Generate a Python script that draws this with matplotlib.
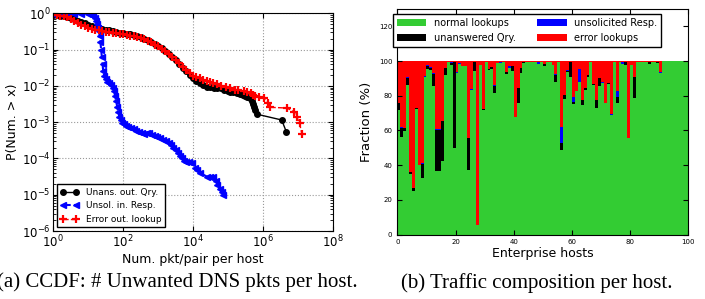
import numpy as np
import matplotlib.pyplot as plt

# ---- left panel: CCDF points (log10 x, log10 y) ----
unans_lx = [0, 0.1, 0.2, 0.3, 0.4, 0.5, 0.6, 0.7, 0.8, 0.9, 1.0, 1.1, 1.2, 1.3, 1.4, 1.5,
            1.6, 1.7, 1.8, 1.9, 2.0, 2.1, 2.2, 2.3, 2.4, 2.5, 2.6, 2.7, 2.8, 2.9, 3.0,
            3.1, 3.2, 3.3, 3.4, 3.5, 3.6, 3.7, 3.8, 3.9, 4.0, 4.1, 4.2, 4.3, 4.4, 4.5,
            4.6, 4.7, 4.8, 4.9, 5.0, 5.06, 5.15, 5.25, 5.35, 5.44, 5.5, 5.56, 5.64,
            5.7, 5.73, 5.76, 5.78, 5.83, 6.54, 6.67]
unans_ly = [-0.05, -0.05, -0.06, -0.08, -0.1, -0.12, -0.15, -0.2, -0.24, -0.28, -0.31,
            -0.34, -0.37, -0.4, -0.42, -0.45, -0.47, -0.49, -0.51, -0.53, -0.54, -0.56,
            -0.58, -0.6, -0.63, -0.66, -0.7, -0.74, -0.79, -0.85, -0.9, -0.96, -1.03,
            -1.12, -1.2, -1.3, -1.4, -1.5, -1.6, -1.7, -1.79, -1.86, -1.92, -1.97,
            -2.02, -2.04, -2.05, -2.06, -2.07, -2.1, -2.14, -2.16, -2.17, -2.2, -2.22,
            -2.25, -2.27, -2.3, -2.34, -2.42, -2.5, -2.58, -2.66, -2.78, -2.94, -3.26]

unsol_lx = [0, 0.2, 0.4, 0.6, 0.8, 1.0, 1.05, 1.1, 1.15, 1.18, 1.21, 1.24, 1.27, 1.3,
            1.33, 1.35, 1.37, 1.39, 1.41, 1.43, 1.46, 1.5, 1.55, 1.6, 1.65, 1.7, 1.74,
            1.77, 1.8, 1.83, 1.86, 1.89, 1.93, 1.97, 2.02, 2.08, 2.15, 2.22, 2.3, 2.38,
            2.46, 2.54, 2.6, 2.68, 2.75, 2.82, 2.9, 2.98, 3.06, 3.14, 3.22, 3.3, 3.38,
            3.44, 3.5, 3.56, 3.62, 3.68, 3.74, 3.8, 3.88, 3.97, 4.05, 4.12, 4.2, 4.4,
            4.5, 4.58, 4.65, 4.7, 4.76, 4.82, 4.87]
unsol_ly = [-0.02, -0.02, -0.02, -0.02, -0.02, -0.02, -0.03, -0.04, -0.06, -0.12, -0.2,
            -0.3, -0.4, -0.5, -0.62, -0.8, -1.0, -1.2, -1.4, -1.6, -1.72, -1.82, -1.88,
            -1.93, -1.98, -2.05, -2.15, -2.28, -2.42, -2.58, -2.72, -2.85, -2.95, -3.02,
            -3.06, -3.1, -3.13, -3.16, -3.19, -3.23, -3.27, -3.31, -3.33, -3.3, -3.3,
            -3.34, -3.38, -3.41, -3.44, -3.48, -3.53, -3.58, -3.64, -3.7, -3.78, -3.86,
            -3.94, -4.0, -4.06, -4.09, -4.11, -4.13, -4.25, -4.33, -4.4, -4.5, -4.5,
            -4.52, -4.62, -4.72, -4.85, -4.93, -5.0]

error_lx = [0, 0.1, 0.2, 0.3, 0.4, 0.5, 0.6, 0.7, 0.8, 0.9, 1.0, 1.1, 1.2, 1.3, 1.4, 1.5,
            1.6, 1.7, 1.8, 1.9, 2.0, 2.1, 2.2, 2.3, 2.4, 2.5, 2.6, 2.7, 2.8, 2.9, 3.0,
            3.1, 3.2, 3.3, 3.4, 3.5, 3.6, 3.7, 3.8, 3.9, 4.0, 4.1, 4.2, 4.3, 4.4, 4.5,
            4.58, 4.7, 4.8, 4.95, 5.06, 5.2, 5.3, 5.45, 5.54, 5.65, 5.72, 5.78, 5.9,
            6.02, 6.16, 6.2, 6.69, 6.88, 6.97, 7.05, 7.12]
error_ly = [-0.05, -0.05, -0.06, -0.08, -0.11, -0.15, -0.2, -0.26, -0.31, -0.36, -0.4,
            -0.42, -0.45, -0.47, -0.49, -0.51, -0.52, -0.54, -0.55, -0.57, -0.58, -0.6,
            -0.62, -0.63, -0.66, -0.69, -0.72, -0.75, -0.8, -0.86, -0.91, -0.97, -1.04,
            -1.11, -1.19, -1.28, -1.38, -1.47, -1.56, -1.65, -1.72, -1.76, -1.79, -1.84,
            -1.87, -1.9, -1.93, -1.96, -2.0, -2.04, -2.07, -2.1, -2.12, -2.15, -2.16,
            -2.2, -2.24, -2.28, -2.3, -2.34, -2.48, -2.59, -2.61, -2.71, -2.85, -3.03,
            -3.33]

# ---- right panel: per-host composition (%) ----
normal = [72, 56, 59.6, 86, 35, 25.3, 72.5, 40, 32.7, 90.8,
          95.4, 94.6, 85.5, 36.6, 36.6, 42.4, 92, 99.5, 98, 50,
          93.2, 98.5, 97, 97.3, 37, 83.3, 94.4, 5.5, 97.7, 72,
          99.5, 94.6, 95.2, 81.7, 99, 99, 99.5, 92.5, 96.2, 94.4,
          68, 76, 93.3, 99, 99.5, 99.5, 99.5, 99.5, 98.3, 99.5,
          97, 99.5, 99.5, 98, 87.7, 99.5, 48.7, 78, 93.5, 91,
          75.2, 83, 88, 74.6, 83.5, 91, 99.5, 86, 72.7, 85.8,
          87.3, 75.6, 86.5, 69, 99.5, 75.6, 99.5, 98.5, 98, 55.8,
          97.5, 79, 99.5, 99.5, 99.5, 99.5, 98.5, 99.5, 99.5, 99,
          93, 99.8, 99.8, 99.8, 99.8, 99.8, 99.8, 99.8, 99.8, 99.8]
unanswered = [4, 5.5, 1.6, 4.3, 1, 1.3, 0.5, 0, 8, 0,
              1.7, 1.6, 7.2, 23.6, 23.6, 23, 4, 0, 1, 49.6,
              0, 0, 0, 0, 18.4, 0, 5.2, 0, 0, 0.5,
              0, 0.8, 1.3, 4.1, 0, 0, 0, 1.3, 0, 3,
              0, 8.2, 2.5, 0.5, 0, 0, 0, 0, 0, 0,
              1.6, 0, 0, 0, 4.3, 0, 3.8, 2.3, 1, 8.6,
              1.3, 0, 0, 2.9, 1, 0.8, 0, 0.5, 4.8, 4.2,
              0, 0, 0.7, 0, 0, 3.8, 0, 0, 1.5, 0,
              0, 12, 0, 0, 0, 0, 1, 0, 0, 0.7,
              0, 0, 0, 0, 0, 0, 0, 0, 0, 0]
unsolicited = [0, 0.5, 0, 0.5, 0, 0, 0, 0, 0.8, 0.5,
               0.5, 0.5, 0.6, 0.5, 0.5, 0, 0, 0, 0.6, 0,
               0.6, 0.5, 0, 0, 0, 0.5, 0, 0, 0, 0,
               0, 0, 0, 0.6, 0, 0.5, 0, 0, 0.8, 0,
               0, 0, 0, 0, 0, 0, 0, 0, 1, 0,
               0, 0, 0, 0, 0.8, 0, 9.6, 0, 0.5, 0,
               3, 0, 7.5, 0, 0, 0, 0, 0, 0, 0,
               0.5, 0, 0, 0.5, 0, 3.3, 0, 0.8, 0, 0,
               0, 0, 0, 0, 0, 0, 0, 0, 0, 0,
               0.7, 0, 0, 0, 0, 0, 0, 0, 0, 0]
error = [24, 38, 38.8, 9.2, 64, 73.4, 27, 60, 58.5, 8.7,
         2.4, 3.3, 6.7, 39.3, 39.3, 34.6, 4, 0.5, 0.4, 0.4,
         6.2, 1, 3, 2.7, 44.6, 16.2, 0.4, 94.5, 2.3, 27.5,
         0.5, 4.6, 3.5, 13.6, 1, 0.5, 0.5, 6.2, 3, 2.6,
         32, 15.8, 4.2, 0.5, 0.5, 0.5, 0.5, 0.5, 0.7, 0.5,
         1.4, 0.5, 0.5, 2, 7.2, 0.5, 37.9, 19.7, 5, 0.4,
         20.5, 17, 4.5, 22.5, 15.5, 8.2, 0.5, 13.5, 22.5, 10,
         12.2, 24.4, 12.8, 30.5, 0.5, 17.3, 0.5, 0.7, 0.5, 44.2,
         2.5, 9, 0.5, 0.5, 0.5, 0.5, 0.5, 0.5, 0.5, 0.3,
         6.3, 0.2, 0.2, 0.2, 0.2, 0.2, 0.2, 0.2, 0.2, 0.2]

plt.rcParams['xtick.direction'] = 'in'
plt.rcParams['ytick.direction'] = 'in'
plt.rcParams['xtick.top'] = True
plt.rcParams['ytick.right'] = True

fig = plt.figure(figsize=(7.05, 2.99), dpi=100)

# left: CCDF
ax = fig.add_axes([0.0756, 0.2274, 0.3963, 0.728])
ax.plot(10 ** np.array(unans_lx), 10 ** np.array(unans_ly), '-', color='black',
        marker='o', ms=4, lw=1, label='Unans. out. Qry.')
ax.plot(10 ** np.array(unsol_lx), 10 ** np.array(unsol_ly), '--', color='blue',
        marker='<', ms=4.5, lw=1.5, mec='blue', label='Unsol. in. Resp.')
ax.plot(10 ** np.array(error_lx), 10 ** np.array(error_ly), '--', color='red',
        marker='+', ms=5.5, mew=1.6, lw=1, label='Error out. lookup')
ax.set_xscale('log')
ax.set_yscale('log')
ax.set_xlim(1, 1e8)
ax.set_ylim(1e-6, 1)
ax.grid(True, which='major', ls=':', color='#999999', lw=0.8)
ax.tick_params(labelsize=8.5, pad=2)
ax.set_xlabel('Num. pkt/pair per host', fontsize=9, labelpad=2)
ax.set_ylabel('P(Num. > x)', fontsize=9, labelpad=2)
ax.legend(loc='lower left', fontsize=6.5, numpoints=2, fancybox=False,
          edgecolor='black', framealpha=1, borderaxespad=0.4, handlelength=2)

# right: stacked bars
hosts = np.arange(len(normal))
g = np.array(normal)
k = np.array(unanswered)
b = np.array(unsolicited)
r = np.array(error)
ax2 = fig.add_axes([0.5636, 0.2157, 0.4128, 0.754])
ax2.bar(hosts, g, width=1, align='edge', color='#33CC33', lw=0, label='normal lookups')
ax2.bar(hosts, k, width=1, align='edge', bottom=g, color='black', lw=0, label='unanswered Qry.')
ax2.bar(hosts, b, width=1, align='edge', bottom=g + k, color='blue', lw=0, label='unsolicited Resp.')
ax2.bar(hosts, r, width=1, align='edge', bottom=g + k + b, color='red', lw=0, label='error lookups')
ax2.set_xlim(0, 100)
ax2.set_ylim(0, 130)
ax2.set_yticks([0, 20, 40, 60, 80, 100, 120])
ax2.tick_params(labelsize=5)
ax2.set_xlabel('Enterprise hosts', fontsize=9, labelpad=1)
ax2.set_ylabel('Fraction (%)', fontsize=9.5, labelpad=4)
ax2.legend(loc='upper center', ncol=2, fontsize=7, fancybox=False, edgecolor='black',
           framealpha=1, handlelength=3.0, columnspacing=2.2, borderaxespad=0.5,
           bbox_to_anchor=(0.447, 1.0))

fig.text(0.252, 0.055, '(a) CCDF: # Unwanted DNS pkts per host.', ha='center', va='center',
         family='Liberation Serif', fontsize=15)
fig.text(0.761, 0.055, '(b) Traffic composition per host.', ha='center', va='center',
         family='Liberation Serif', fontsize=15)

fig.savefig('out.png', dpi=100)
